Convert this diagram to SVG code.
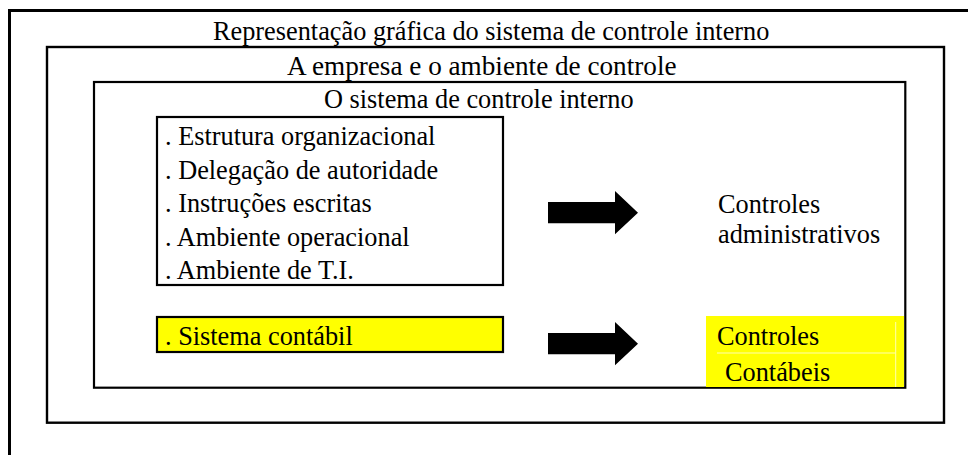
<svg xmlns="http://www.w3.org/2000/svg" width="968" height="455" viewBox="0 0 968 455">
<style>
text{font-family:'Liberation Serif','DejaVu Serif',serif;font-size:26.3px;fill:#000}
.box{fill:none;stroke:#000}
.ybox{fill:#ffff00;stroke:#000;stroke-width:2.2}
.arrow{fill:#000}
.faint{fill:none;stroke:#ffffb0;stroke-width:1}
</style>
<rect width="968" height="455" fill="#fff"/>
<g id="frame">
<path class="box" d="M968,10.5 H9.5 V455" stroke-width="3"/>
<text x="213" y="39.5">Representação gráfica do sistema de controle interno</text>
</g>
<g id="empresa">
<rect class="box" x="47" y="47" width="897" height="375.7" stroke-width="2.4"/>
<text x="287" y="75" style="font-size:27.2px">A empresa e o ambiente de controle</text>
</g>
<g id="sistema">
<rect class="box" x="94" y="82" width="811.3" height="305.7" stroke-width="2.2"/>
<text x="324" y="107.5">O sistema de controle interno</text>
</g>
<g id="lista">
<rect class="box" x="157" y="117" width="346" height="168" stroke-width="2.2"/>
<text x="165" y="145">. Estrutura organizacional</text>
<text x="165" y="178.5">. Delegação de autoridade</text>
<text x="165" y="212">. Instruções escritas</text>
<text x="165" y="245.5">. Ambiente operacional</text>
<text x="165" y="279">. Ambiente de T.I.</text>
</g>
<g id="sistema-contabil">
<rect class="ybox" x="157" y="317" width="346" height="35"/>
<text x="165" y="345">. Sistema contábil</text>
</g>
<g id="controles-administrativos">
<text x="718" y="213">Controles</text>
<text x="718" y="243.3">administrativos</text>
</g>
<g id="controles-contabeis">
<rect x="706" y="316" width="198" height="71" fill="#ffff00"/>
<path class="faint" d="M717,353 H895.7 M895.7,322 V387"/>
<text x="717" y="345">Controles</text>
<text x="725" y="381">Contábeis</text>
</g>
<g id="connectors">
<polygon class="arrow" points="548,202 615,202 615,191 638,212.7 615,234.3 615,223.3 548,223.3"/>
<polygon class="arrow" points="548,333 615,333 615,322 638,343.7 615,365.3 615,354.3 548,354.3"/>
</g>
</svg>
